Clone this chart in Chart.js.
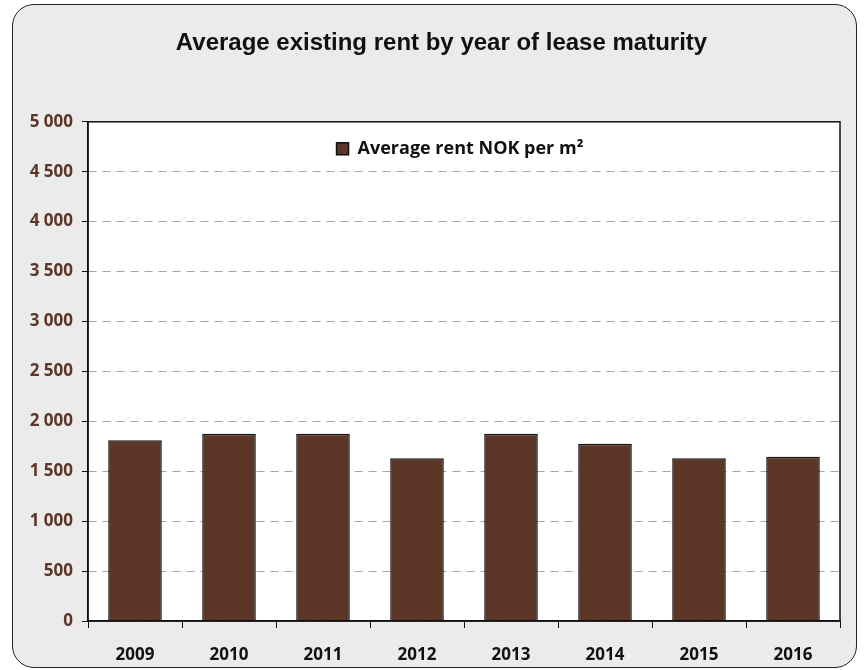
<!DOCTYPE html>
<html lang="en">
<head>
<meta charset="UTF-8" />
<title>Average existing rent by year of lease maturity</title>
<script src="https://cdn.jsdelivr.net/npm/chart.js"></script>
<style>
    html, body { margin: 0; padding: 0; background: #ffffff; }
    .moldura {
        position: absolute;
        left: 12px; top: 4px;
        width: 843px; height: 662px;
        background: #ebebeb;
        border: 1.5px solid #222;
        border-radius: 22px;
    }
    canvas { display: block; }
</style>
</head>
<body>
<div class="moldura">
    <canvas id="grafico" width="843" height="662"></canvas>
</div>

<script>
    // dados
    const anos = ['2009', '2010', '2011', '2012', '2013', '2014', '2015', '2016'];
    const aluguelMedio = [1810, 1875, 1875, 1630, 1875, 1776, 1630, 1646];
    const nomeSerie = 'Average rent NOK per m\u00b2';
    const yMin = 0, yMax = 5000, yPasso = 500;

    // fundo branco e moldura da área do gráfico
    const areaPlot = {
        id: 'areaPlot',
        afterLayout(chart) {
            // a legenda fica dentro da área do gráfico, no topo, centrada
            const leg = chart.legend;
            const a = chart.chartArea;
            const dy = a.top + 10 - leg.top;
            const dx = (a.left + a.right) / 2 - 4 - (leg.left + leg.right) / 2;
            leg.top += dy;
            leg.bottom += dy;
            leg.left += dx;
            leg.right += dx;
            // título um pouco mais à direita
            chart.titleBlock.left += 15;
            chart.titleBlock.right += 15;
        },
        beforeDraw(chart) {
            const { ctx, chartArea: a } = chart;
            ctx.save();
            ctx.fillStyle = '#ffffff';
            ctx.fillRect(a.left, a.top, a.right - a.left, a.bottom - a.top);
            ctx.restore();
        },
        afterDraw(chart) {
            const { ctx, chartArea: a } = chart;
            ctx.save();
            ctx.strokeStyle = '#111';
            ctx.lineWidth = 1.5;
            ctx.strokeRect(a.left, a.top, a.right - a.left, a.bottom - a.top);
            ctx.restore();
        }
    };

    const fonteEixo = { family: 'Open Sans', size: 17, weight: 'bold' };

    const ctx = document.getElementById('grafico').getContext('2d');
    new Chart(ctx, {
        type: 'bar',
        data: {
            labels: anos,
            datasets: [{
                label: nomeSerie,
                data: aluguelMedio,
                backgroundColor: '#5c3626',
                borderColor: '#111',
                borderWidth: 1.5,
                categoryPercentage: 1,
                barPercentage: 0.57
            }]
        },
        options: {
            responsive: false,
            animation: false,
            layout: { padding: { left: 0, right: 16, top: 0, bottom: 2 } },
            plugins: {
                title: {
                    display: true,
                    text: 'Average existing rent by year of lease maturity',
                    color: '#111',
                    font: { family: 'Liberation Sans', size: 24, weight: 'bold' },
                    padding: { top: 24, bottom: 28 }
                },
                legend: {
                    position: 'top',
                    align: 'center',
                    labels: {
                        color: '#111',
                        boxWidth: 12,
                        boxHeight: 12,
                        padding: 8,
                        font: { family: 'Open Sans', size: 18, weight: 'bold' }
                    }
                },
                tooltip: { enabled: false }
            },
            scales: {
                x: {
                    afterFit(scale) { scale.height = 44; },
                    grid: {
                        offset: true,
                        drawOnChartArea: false,
                        drawTicks: true,
                        tickLength: 7,
                        tickColor: '#111',
                        color: '#111'
                    },
                    border: { color: '#111', width: 1.5 },
                    ticks: {
                        color: '#111',
                        padding: 17,
                        font: fonteEixo
                    }
                },
                y: {
                    min: yMin,
                    max: yMax,
                    afterFit(scale) { scale.width = 75; },
                    grid: {
                        color: '#a6a6a6',
                        lineWidth: 1,
                        tickLength: 6,
                        tickColor: '#111',
                        tickBorderDash: []
                    },
                    border: { color: '#111', width: 1.5, dash: [8, 6] },
                    ticks: {
                        stepSize: yPasso,
                        color: '#5c3626',
                        padding: 9,
                        font: fonteEixo,
                        callback: (v) => String(v).replace(/\B(?=(\d{3})+(?!\d))/g, ' ')
                    }
                }
            }
        },
        plugins: [areaPlot]
    });
</script>
</body>
</html>
